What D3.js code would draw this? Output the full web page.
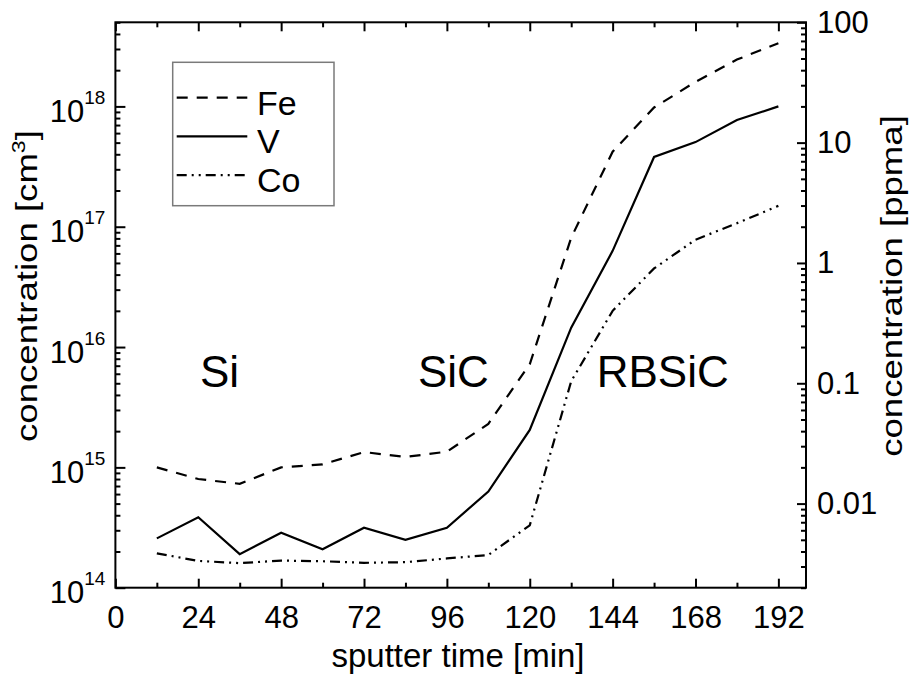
<!DOCTYPE html>
<html>
<head>
<meta charset="utf-8">
<script src="https://cdn.jsdelivr.net/npm/d3@7"></script>
<style>
  html, body { margin: 0; padding: 0; background: #fff; }
  svg { display: block; font-family: "Liberation Sans", Arial, sans-serif; }
</style>
</head>
<body>
<svg id="chart" width="913" height="679"></svg>
<script>
// sputter depth profile: impurity concentration vs sputter time
const time = [12, 24, 36, 48, 60, 72, 84, 96, 108, 120, 132, 144, 156, 168, 180, 192];
const fe = [1.0e15, 8.0e14, 7.3e14, 1.0e15, 1.06e15, 1.34e15, 1.22e15, 1.35e15,
            2.3e15, 7.2e15, 8.1e16, 4.2e17, 9.8e17, 1.6e18, 2.45e18, 3.35e18];
const v  = [2.57e14, 3.85e14, 1.9e14, 2.86e14, 2.09e14, 3.15e14, 2.5e14, 3.15e14,
            6.3e14, 2.05e15, 1.45e16, 6.3e16, 3.8e17, 5.05e17, 7.7e17, 1.0e18];
const co = [1.93e14, 1.67e14, 1.6e14, 1.68e14, 1.66e14, 1.61e14, 1.63e14, 1.75e14,
            1.87e14, 3.3e14, 5.2e15, 2.0e16, 4.5e16, 7.8e16, 1.07e17, 1.49e17];

const seriesNames = ["Fe", "V", "Co"];
const seriesDash = ["11,9", null, "10,5,2,5,2,5"];

const xMajor = [0, 24, 48, 72, 96, 120, 144, 168, 192];
const xMinor = [12, 36, 60, 84, 108, 132, 156, 180];
const leftMajor = [1e14, 1e15, 1e16, 1e17, 1e18];
const leftExp = ["14", "15", "16", "17", "18"];
const rightMajor = [0.01, 0.1, 1, 10, 100];
const rightLabels = ["0.01", "0.1", "1", "10", "100"];

const regionNames = ["Si", "SiC", "RBSiC"];
const regionTime = [24.5, 87.6, 139.4];
const regionConc = [4.7e15, 4.7e15, 4.7e15];

const svg = d3.select("#chart");
const plotL = 115.4, plotR = 806, plotT = 22.3, plotB = 587.7;

const x = d3.scaleLinear().domain([0, 200]).range([plotL, plotR]);
const yL = d3.scaleLog().domain([1e14, 5e18]).range([plotB, plotT]);
const yR = d3.scaleLog().domain([0.002, 100]).range([plotB, plotT]);

function minorLog(lo, hi, dMin, dMax) {
  const out = [];
  for (let n = lo; n <= hi; n++)
    for (let k = 2; k <= 9; k++) {
      const val = k * Math.pow(10, n);
      if (val >= dMin * 0.999 && val <= dMax * 1.001) out.push(val);
    }
  return out;
}

function styleAxis(g) {
  g.select(".domain").remove();
  g.selectAll(".tick line").attr("stroke", "#000").attr("stroke-width", 2);
}

// bottom axis
svg.append("g").attr("transform", `translate(0,${plotB})`)
  .call(d3.axisBottom(x).tickValues(xMajor).tickSize(-9).tickPadding(18).tickFormat(d3.format("d")))
  .call(styleAxis)
  .call(g => g.selectAll(".tick text").attr("font-size", 31).attr("fill", "#000")
      .attr("font-family", "Liberation Sans, Arial, sans-serif").attr("dy", "0.71em"));
svg.append("g").attr("transform", `translate(0,${plotB})`)
  .call(d3.axisBottom(x).tickValues(xMinor).tickSize(-5).tickFormat(""))
  .call(styleAxis);
// top axis
svg.append("g").attr("transform", `translate(0,${plotT})`)
  .call(d3.axisTop(x).tickValues(xMajor).tickSize(-9).tickFormat(""))
  .call(styleAxis);
svg.append("g").attr("transform", `translate(0,${plotT})`)
  .call(d3.axisTop(x).tickValues(xMinor).tickSize(-5).tickFormat(""))
  .call(styleAxis);

// left axis (cm^-3)
const gL = svg.append("g").attr("transform", `translate(${plotL},0)`)
  .call(d3.axisLeft(yL).tickValues(leftMajor).tickSize(-10).tickFormat(""))
  .call(styleAxis);
gL.selectAll(".tick").each(function(d, i) {
  const t = d3.select(this).append("text")
    .attr("x", -10).attr("y", 15).attr("text-anchor", "end")
    .attr("fill", "#000").attr("font-size", 31)
    .attr("font-family", "Liberation Sans, Arial, sans-serif");
  t.append("tspan").text("10");
  t.append("tspan").attr("font-size", 19).attr("dy", -18).text(leftExp[i]);
});
svg.append("g").attr("transform", `translate(${plotL},0)`)
  .call(d3.axisLeft(yL).tickValues(minorLog(14, 18, 1e14, 5e18)).tickSize(-5).tickFormat(""))
  .call(styleAxis);

// right axis (ppma)
svg.append("g").attr("transform", `translate(${plotR},0)`)
  .call(d3.axisRight(yR).tickValues(rightMajor).tickSize(-9).tickPadding(11)
      .tickFormat((d, i) => rightLabels[i]))
  .call(styleAxis)
  .call(g => g.selectAll(".tick text").attr("font-size", 31).attr("fill", "#000")
      .attr("font-family", "Liberation Sans, Arial, sans-serif"));
svg.append("g").attr("transform", `translate(${plotR},0)`)
  .call(d3.axisRight(yR).tickValues(minorLog(-3, 1, 0.002, 100)).tickSize(-5).tickFormat(""))
  .call(styleAxis);

// frame
svg.append("rect").attr("x", plotL).attr("y", plotT)
  .attr("width", plotR - plotL).attr("height", plotB - plotT)
  .attr("fill", "none").attr("stroke", "#000").attr("stroke-width", 2);

// series lines
const allSeries = [fe, v, co];
const line = d3.line().x((d, i) => x(time[i])).y(d => yL(d));
allSeries.forEach((vals, s) => {
  svg.append("path").datum(vals)
    .attr("d", line)
    .attr("fill", "none").attr("stroke", "#000").attr("stroke-width", 2.2)
    .attr("stroke-dasharray", seriesDash[s]);
});

// region annotations
regionNames.forEach((name, i) => {
  svg.append("text").attr("x", x(regionTime[i])).attr("y", yL(regionConc[i]))
    .attr("font-size", 44).attr("fill", "#000").text(name);
});

// legend
const lg = svg.append("g");
lg.append("rect").attr("x", 172.7).attr("y", 62.3).attr("width", 161.3).attr("height", 143.4)
  .attr("fill", "#fff").attr("stroke", "#7a7a7a").attr("stroke-width", 1.5);
seriesNames.forEach((name, i) => {
  const yy = 97.7 + i * 38.7;
  lg.append("line").attr("x1", 176.7).attr("x2", 247.3).attr("y1", yy).attr("y2", yy)
    .attr("stroke", "#000").attr("stroke-width", 2.2).attr("stroke-dasharray", seriesDash[i]);
  lg.append("text").attr("x", 257).attr("y", yy + 17).attr("font-size", 34).attr("fill", "#000").text(name);
});

// axis titles
svg.append("text").attr("x", 458).attr("y", 667).attr("text-anchor", "middle")
  .attr("font-size", 33).attr("fill", "#000").text("sputter time [min]");
const tL = svg.append("text").attr("transform", "translate(37,286) rotate(-90) scale(1.22,1)")
  .attr("text-anchor", "middle").attr("font-size", 30).attr("fill", "#000");
tL.append("tspan").text("concentration [cm");
tL.append("tspan").attr("font-size", 19).attr("dy", -12).text("3");
tL.append("tspan").attr("dy", 12).text("]");
svg.append("text").attr("transform", "translate(902,286) rotate(-90) scale(1.22,1)")
  .attr("text-anchor", "middle").attr("font-size", 30).attr("fill", "#000")
  .text("concentration [ppma]");
</script>
</body>
</html>
